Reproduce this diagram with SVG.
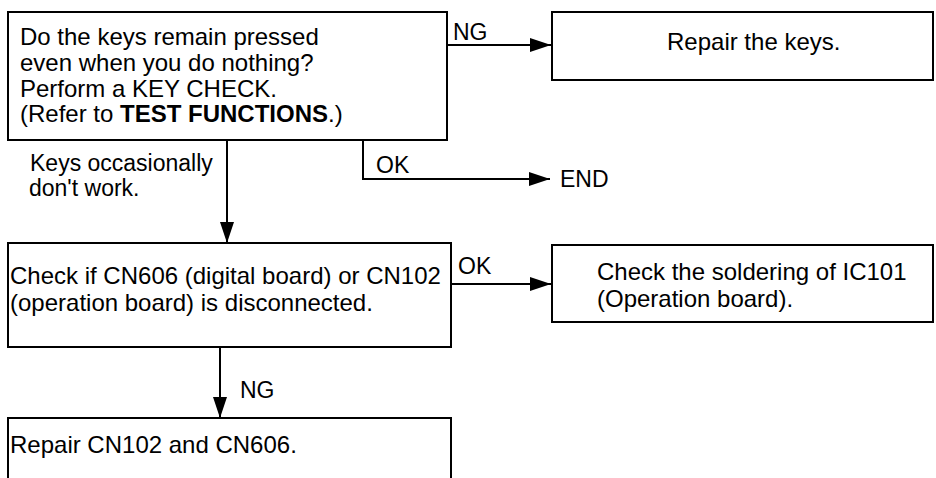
<svg xmlns="http://www.w3.org/2000/svg" width="936" height="478" viewBox="0 0 936 478">
<style>
.box{fill:#fff;stroke:#000;stroke-width:2}
.t{font-family:"Liberation Sans",Arial,sans-serif;font-size:24px;fill:#000}
.l{font-family:"Liberation Sans",Arial,sans-serif;font-size:23px;fill:#000}
.c{fill:none;stroke:#000;stroke-width:2}
</style>
<defs>
<marker id="ah" markerUnits="userSpaceOnUse" markerWidth="21" markerHeight="14" refX="21" refY="7" orient="auto">
<path d="M0,0 L21,7 L0,14 Z" fill="#000"/>
</marker>
</defs>
<rect width="936" height="478" fill="#fff"/>
<g id="connectors">
<path class="c" d="M447,45 H551" marker-end="url(#ah)"/>
<path class="c" d="M363,140 V179 H550" marker-end="url(#ah)"/>
<path class="c" d="M227,140 V243" marker-end="url(#ah)"/>
<path class="c" d="M451,284 H551" marker-end="url(#ah)"/>
<path class="c" d="M220,347 V418" marker-end="url(#ah)"/>
<text class="l" x="453" y="40">NG</text>
<text class="l" x="376" y="173">OK</text>
<text class="l" x="30" y="171">Keys occasionally</text>
<text class="l" x="29" y="196">don't work.</text>
<text class="l" x="458" y="274">OK</text>
<text class="l" x="240" y="398">NG</text>
</g>
<g id="n-keycheck">
<rect class="box" x="8" y="12" width="439" height="128"/>
<text class="t" x="20" y="45">Do the keys remain pressed</text>
<text class="t" x="20" y="71">even when you do nothing?</text>
<text class="t" x="20" y="97">Perform a KEY CHECK.</text>
<text class="t" x="20" y="122">(Refer to <tspan font-weight="bold">TEST FUNCTIONS</tspan>.)</text>
</g>
<g id="n-repairkeys">
<rect class="box" x="552" y="12" width="381" height="68"/>
<text class="t" x="667" y="50">Repair the keys.</text>
</g>
<g id="n-end">
<text class="l" x="560" y="187">END</text>
</g>
<g id="n-checkcn">
<rect class="box" x="8" y="243" width="443" height="104"/>
<text class="t" x="10" y="284">Check if CN606 (digital board) or CN102</text>
<text class="t" x="10" y="311">(operation board) is disconnected.</text>
</g>
<g id="n-solder">
<rect class="box" x="552" y="245" width="381" height="77"/>
<text class="t" x="597" y="280">Check the soldering of IC101</text>
<text class="t" x="597" y="307">(Operation board).</text>
</g>
<g id="n-repaircn">
<rect class="box" x="8" y="418" width="443" height="80"/>
<text class="t" x="10" y="453">Repair CN102 and CN606.</text>
</g>
</svg>
